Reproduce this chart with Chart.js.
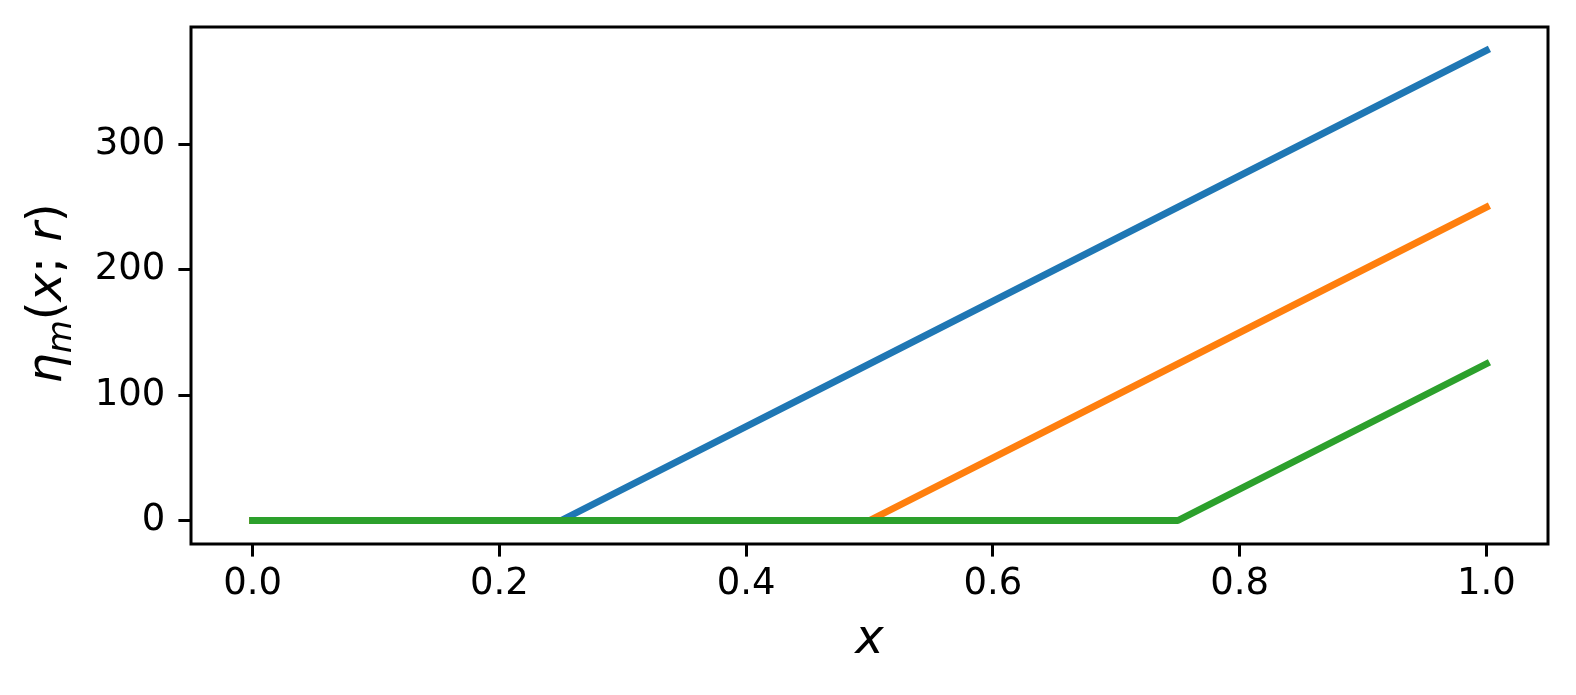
<!DOCTYPE html>
<html>
<head>
<meta charset="utf-8">
<script src="https://cdn.jsdelivr.net/npm/chart.js@4/dist/chart.umd.min.js"></script>
<style>
  html, body { margin: 0; padding: 0; background: #fff; }
  #wrap { width: 1576px; height: 695px; }
</style>
</head>
<body>
<div id="wrap"><canvas id="chart" width="1576" height="695"></canvas></div>
<script>
// data
const xs = [0, 0.25, 0.5, 0.75, 1.0];
const blueY = [0, 0, 125, 250, 375];
const orangeY = [0, 0, 0, 125, 250];
const greenY = [0, 0, 0, 0, 125];
const xTicks = [0, 0.2, 0.4, 0.6, 0.8, 1.0];
const yTicks = [0, 100, 200, 300];

const FONT = "'DejaVu Sans', sans-serif";

function pts(ys) {
    return xs.map((x, i) => ({ x: x, y: ys[i] }));
}

function lineSet(ys, color, order) {
    return {
        data: pts(ys),
        borderColor: color,
        backgroundColor: color,
        borderWidth: 7,
        borderCapStyle: "square",
        borderJoinStyle: "round",
        pointRadius: 0,
        tension: 0,
        fill: false,
        order: order
    };
}

// axes box, drawn over the lines like matplotlib spines
const boxPlugin = {
    id: "box",
    afterDatasetsDraw(chart) {
        const a = chart.chartArea;
        const ctx = chart.ctx;
        ctx.save();
        ctx.strokeStyle = "#000";
        ctx.lineWidth = 3;
        ctx.strokeRect(a.left, a.top, a.right - a.left, a.bottom - a.top);
        ctx.restore();
    }
};

// y label with subscript m
const yLabelPlugin = {
    id: "ylabel",
    afterDraw(chart) {
        const ctx = chart.ctx;
        const a = chart.chartArea;
        const parts = [
            { t: "η", it: true, size: 48, dy: 0 },
            { t: "m", it: true, size: 34, dy: 10 },
            { t: "(", it: false, size: 48, dy: 0 },
            { t: "x", it: true, size: 48, dy: 0 },
            { t: "; ", it: false, size: 48, dy: 0 },
            { t: "r", it: true, size: 48, dy: 0 },
            { t: ")", it: false, size: 48, dy: 0 }
        ];
        ctx.save();
        ctx.translate(48, (a.top + a.bottom) / 2 + 8);
        ctx.rotate(-Math.PI / 2);
        ctx.fillStyle = "#000";
        ctx.textBaseline = "alphabetic";
        let total = 0;
        parts.forEach(p => {
            ctx.font = (p.it ? "italic " : "") + p.size + "px " + FONT;
            p.w = ctx.measureText(p.t).width;
            total += p.w;
        });
        let x = -total / 2;
        parts.forEach(p => {
            ctx.font = (p.it ? "italic " : "") + p.size + "px " + FONT;
            ctx.fillText(p.t, x, 13 + p.dy);
            x += p.w;
        });
        ctx.restore();
    }
};

new Chart(document.getElementById("chart"), {
    type: "line",
    data: {
        datasets: [
            lineSet(blueY, "#1f77b4", 2),
            lineSet(orangeY, "#ff7f0e", 1),
            lineSet(greenY, "#2ca02c", 0)
        ]
    },
    options: {
        responsive: false,
        animation: false,
        layout: { padding: { top: 27, right: 28, left: 0, bottom: 0 } },
        plugins: {
            legend: { display: false },
            tooltip: { enabled: false }
        },
        scales: {
            x: {
                type: "linear",
                min: -0.05,
                max: 1.05,
                afterBuildTicks: axis => { axis.ticks = xTicks.map(v => ({ value: v })); },
                afterFit: axis => {
                    axis.height = 151;
                    axis.paddingLeft = 0;
                    axis.paddingRight = 0;
                },
                border: { display: false },
                grid: {
                    drawOnChartArea: false,
                    drawTicks: true,
                    tickLength: 12.6,
                    tickWidth: 3,
                    tickColor: "#000"
                },
                ticks: {
                    color: "#000",
                    padding: 6,
                    maxRotation: 0,
                    font: { family: FONT, size: 37 },
                    callback: v => v.toFixed(1)
                },
                title: {
                    display: true,
                    text: "x",
                    color: "#000",
                    font: { family: FONT, size: 48, style: "italic" },
                    padding: { top: 0, bottom: 26 }
                }
            },
            y: {
                type: "linear",
                min: -18.75,
                max: 393.75,
                afterBuildTicks: axis => { axis.ticks = yTicks.map(v => ({ value: v })); },
                afterFit: axis => {
                    axis.width = 191;
                    axis.paddingTop = 0;
                    axis.paddingBottom = 0;
                },
                border: { display: false },
                grid: {
                    drawOnChartArea: false,
                    drawTicks: true,
                    tickLength: 12.6,
                    tickWidth: 3,
                    tickColor: "#000"
                },
                ticks: {
                    color: "#000",
                    padding: 13,
                    font: { family: FONT, size: 37 },
                    callback: v => String(v)
                }
            }
        }
    },
    plugins: [boxPlugin, yLabelPlugin]
});
</script>
</body>
</html>
